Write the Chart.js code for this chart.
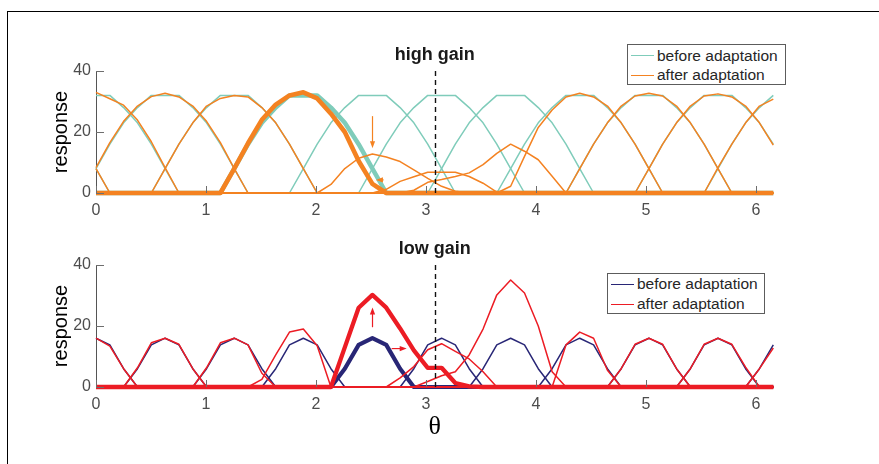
<!DOCTYPE html>
<html>
<head>
<meta charset="utf-8">
<script src="https://cdn.jsdelivr.net/npm/chart.js@4.4.0/dist/chart.umd.min.js"></script>
<style>
    html, body { margin: 0; padding: 0; background: #fff; overflow: hidden; }
    body { position: relative; width: 879px; height: 464px; font-family: "Liberation Sans", Arial, sans-serif; }
    canvas { position: absolute; left: 0; }
    #frame { position: absolute; left: 7px; top: 11px; width: 900px; height: 500px; border-top: 1.5px solid #000; border-left: 1px solid #000; }
    .legend { position: absolute; background: #fff; border: 1px solid #5c5c5c; box-sizing: border-box; }
    .legend .swatch { position: absolute; height: 0; border-top: 1.6px solid; }
    .legend .label { position: absolute; font-size: 15.5px; line-height: 18px; color: #262626; white-space: nowrap; }
</style>
</head>
<body>
<div id="frame"></div>
<canvas id="high-gain-chart" width="879" height="232" style="top:0"></canvas>
<canvas id="low-gain-chart" width="879" height="232" style="top:232px"></canvas>
<div id="high-legend" class="legend"></div>
<div id="low-legend" class="legend"></div>
<script>
// Muestreo de theta (50 puntos)
var theta = [0, 0.126, 0.251, 0.377, 0.503, 0.628, 0.754, 0.880, 1.005, 1.131,
             1.257, 1.382, 1.508, 1.634, 1.759, 1.885, 2.011, 2.136, 2.262, 2.388,
             2.513, 2.639, 2.765, 2.890, 3.016, 3.142, 3.267, 3.393, 3.519, 3.644,
             3.770, 3.896, 4.021, 4.147, 4.273, 4.398, 4.524, 4.650, 4.775, 4.901,
             5.027, 5.152, 5.278, 5.404, 5.529, 5.655, 5.781, 5.906, 6.032, 6.158];
var xTicks = [0, 1, 2, 3, 4, 5, 6];
var yTicks = [0, 20, 40];
var adaptorTheta = 3.08;
var seriesLabels = ['before adaptation', 'after adaptation'];

// Curvas: [indice inicial, valores] (fuera de ese tramo la respuesta es 0)
var highBefore = [
    [44, [0, 8, 16, 23, 28, 32, 32, 32, 28, 23, 16, 8, 0]],
    [49, [0, 8, 16, 23, 28, 32, 32, 32, 28, 23, 16, 8, 0]],
    [4,  [0, 8, 16, 23, 28, 32, 32, 32, 28, 23, 16, 8, 0]],
    [9,  [0, 8, 16, 23, 28, 32, 32, 32, 28, 23, 16, 8, 0]],
    [14, [0, 8, 16, 23, 28, 32, 32, 32, 28, 23, 16, 8, 0]],
    [19, [0, 8, 16, 23, 28, 32, 32, 32, 28, 23, 16, 8, 0]],
    [24, [0, 8, 16, 23, 28, 32, 32, 32, 28, 23, 16, 8, 0]],
    [29, [0, 8, 16, 23, 28, 32, 32, 32, 28, 23, 16, 8, 0]],
    [34, [0, 8, 16, 23, 28, 32, 32, 32, 28, 23, 16, 8, 0]],
    [39, [0, 8, 16, 23, 28, 32, 32, 32, 28, 23, 16, 8, 0]]
];
var highAfter = [
    [44, [0, 8.3, 16, 23, 28.5, 30.8, 33, 30.9, 28.8, 23.9, 16.8, 8.3, 0]],
    [49, [0, 8.3, 16.5, 23.5, 28.5, 31.6, 32.7, 31.5, 28.5, 23.5, 16.5, 8, 0]],
    [4,  [0, 8, 16, 23, 28.5, 31, 32, 31.5, 28, 23, 16, 8, 0]],
    [9,  [0, 8, 16.3, 24, 29, 32, 33, 31, 26, 20, 10.5, 3, 0]],
    [16, [0, 2.8, 8, 11.4, 12.8, 11.8, 10.3, 7.6, 4.8, 2.2, 0.6, 0]],
    [20, [0, 1.2, 3.8, 5.3, 6.8, 6.8, 6.8, 5.4, 3.2, 0.3, 0]],
    [22, [0, 0.9, 3.5, 4.4, 5.4, 6.6, 9.3, 13, 16, 13.7, 10.9, 5.5, 0]],
    [29, [0, 2.2, 12, 21.5, 27.2, 31.5, 32.7, 31.5, 28.5, 23, 16, 8, 0]],
    [34, [0, 8, 16, 23, 28.5, 31.8, 32.7, 31.8, 28.5, 23, 16, 8, 0]],
    [39, [0, 8, 16, 23, 28.5, 31.8, 32.5, 31.5, 28.5, 23, 15.7, 8, 0]]
];
var lowBefore = [
    [47, [0, 6, 13.8, 16, 13.8, 6, 0]],
    [2,  [0, 6, 13.8, 16, 13.8, 6, 0]],
    [7,  [0, 6, 13.8, 16, 13.8, 6, 0]],
    [12, [0, 6, 13.8, 16, 13.8, 6, 0]],
    [17, [0, 6, 13.8, 16, 13.8, 6, 0]],
    [22, [0, 6, 13.8, 16, 13.8, 6, 0]],
    [27, [0, 6, 13.8, 16, 13.8, 6, 0]],
    [32, [0, 6, 13.8, 16, 13.8, 6, 0]],
    [37, [0, 6, 13.8, 16, 13.8, 6, 0]],
    [42, [0, 6, 13.8, 16, 13.8, 6, 0]]
];
var lowAfter = [
    [47, [0, 6, 12.8, 16, 13.4, 6, 0]],
    [2,  [0, 6.3, 14.5, 16, 14, 6, 0]],
    [7,  [0, 6.3, 14.5, 16, 13.8, 4.5, 0]],
    [11, [0, 2.5, 10.5, 18, 19, 13.5, 0]],
    [17, [0, 13, 26, 30.2, 26, 19.2, 12, 6.3, 6.3, 1.3, 0.2, 0]],
    [21, [0, 3, 6.7, 12.2, 14.2, 11.7, 9.2, 5, 0]],
    [23, [0, 1.8, 3.7, 5, 10.5, 19, 30.2, 35.1, 30.8, 20, 5, 0]],
    [33, [0, 13.8, 18, 16, 5.5, 0]],
    [37, [0, 6, 14, 16, 14, 6, 0]],
    [42, [0, 6, 14, 16, 14, 6.5, 0]]
];
var highFocus = 3;   // curva resaltada (gruesa) en ganancia alta
var lowFocus = 4;    // curva resaltada (gruesa) en ganancia baja

// Flechas [x0, y0, x1, y1] en unidades de los datos
var highArrows = [[2.514, 25.2, 2.514, 14.7], [2.615, 4.3, 2.545, 4.3]];
var lowArrows = [[2.514, 19.6, 2.514, 26.1], [2.688, 12.6, 2.825, 12.6]];

var tealColor = 'rgb(127, 204, 186)';
var orangeColor = 'rgb(244, 130, 33)';
var navyColor = 'rgb(40, 38, 118)';
var redColor = 'rgb(236, 28, 36)';
var axisGrey = '#555555';
var fontFamily = '"Liberation Sans", Arial, sans-serif';

function expand(curve) {
    var y = theta.map(function () { return 0; });
    curve[1].forEach(function (v, i) { y[(curve[0] + i) % theta.length] = v; });
    return theta.map(function (t, k) { return {x: t, y: y[k]}; });
}

function lineSet(curve, color, width) {
    return {
        data: expand(curve),
        borderColor: color,
        borderWidth: width,
        pointRadius: 0,
        tension: 0,
        fill: false,
        clip: false,
        borderJoinStyle: 'round'
    };
}

function buildDatasets(before, after, focus, colBefore, colAfter, thickBefore, thickAfter) {
    var sets = [];
    before.forEach(function (c, i) { if (i !== focus) sets.push(lineSet(c, colBefore, 1.5)); });
    sets.push(lineSet(before[focus], colBefore, thickBefore));
    after.forEach(function (c, i) { if (i !== focus) sets.push(lineSet(c, colAfter, 1.5)); });
    sets.push(lineSet(after[focus], colAfter, thickAfter));
    sets.forEach(function (s, i) { s.order = sets.length - i; });
    return sets;
}

function drawArrow(ctx, x0, y0, x1, y1, color) {
    var ang = Math.atan2(y1 - y0, x1 - x0);
    var len = 7, half = 2.6;
    ctx.strokeStyle = color;
    ctx.fillStyle = color;
    ctx.lineWidth = 1.2;
    ctx.beginPath();
    ctx.moveTo(x0, y0);
    ctx.lineTo(x1 - Math.cos(ang) * len * 0.8, y1 - Math.sin(ang) * len * 0.8);
    ctx.stroke();
    ctx.beginPath();
    ctx.moveTo(x1, y1);
    ctx.lineTo(x1 - Math.cos(ang) * len - Math.sin(ang) * half, y1 - Math.sin(ang) * len + Math.cos(ang) * half);
    ctx.lineTo(x1 - Math.cos(ang) * len + Math.sin(ang) * half, y1 - Math.sin(ang) * len - Math.cos(ang) * half);
    ctx.closePath();
    ctx.fill();
}

// Marcas hacia dentro, linea del adaptador y flechas
var markerPlugin = {
    id: 'markers',
    afterDatasetsDraw: function (chart, args, opts) {
        var ctx = chart.ctx, xs = chart.scales.x, ys = chart.scales.y;
        ctx.save();
        ctx.strokeStyle = '#6e6e6e';
        ctx.lineWidth = 1;
        ctx.beginPath();
        xs.ticks.forEach(function (t) {
            var px = Math.round(xs.getPixelForValue(t.value)) + 0.5;
            ctx.moveTo(px, ys.bottom);
            ctx.lineTo(px, ys.bottom - 7);
        });
        ys.ticks.forEach(function (t) {
            var py = Math.round(ys.getPixelForValue(t.value)) + 0.5;
            ctx.moveTo(xs.left, py);
            ctx.lineTo(xs.left + 8, py);
        });
        ctx.stroke();

        var ax = Math.round(xs.getPixelForValue(opts.adaptor)) + 0.5;
        ctx.strokeStyle = '#111';
        ctx.lineWidth = 1.4;
        ctx.setLineDash([5, 4]);
        ctx.beginPath();
        ctx.moveTo(ax, ys.getPixelForValue(40));
        ctx.lineTo(ax, ys.getPixelForValue(0));
        ctx.stroke();
        ctx.setLineDash([]);

        opts.arrows.forEach(function (a) {
            drawArrow(ctx, xs.getPixelForValue(a[0]), ys.getPixelForValue(a[1]),
                      xs.getPixelForValue(a[2]), ys.getPixelForValue(a[3]), opts.arrowColor);
        });
        ctx.restore();
    }
};

function makeChart(id, cfg) {
    var ctx = document.getElementById(id).getContext('2d');
    return new Chart(ctx, {
        type: 'line',
        data: { datasets: cfg.datasets },
        options: {
            responsive: false,
            animation: false,
            devicePixelRatio: 1,
            events: [],
            layout: { padding: { left: 0, right: 105.7, top: 0, bottom: 0 } },
            plugins: {
                legend: { display: false },
                tooltip: { enabled: false },
                title: {
                    display: true,
                    text: cfg.title,
                    fullSize: false,
                    color: '#1a1a1a',
                    font: { family: fontFamily, size: 18, weight: 'bold', lineHeight: 1.2 },
                    padding: { top: cfg.titleTop, bottom: cfg.titleBottom }
                },
                markers: { adaptor: adaptorTheta, arrows: cfg.arrows, arrowColor: cfg.arrowColor }
            },
            scales: {
                x: {
                    type: 'linear',
                    min: theta[0],
                    max: theta[theta.length - 1],
                    grid: { display: false, drawTicks: false },
                    border: { display: true, color: axisGrey, width: 1 },
                    ticks: { color: '#4d4d4d', padding: 8, includeBounds: false, font: { family: fontFamily, size: 16 } },
                    afterBuildTicks: function (s) { s.ticks = xTicks.map(function (v) { return {value: v}; }); },
                    afterFit: function (s) { s.height = cfg.xHeight; },
                    title: {
                        display: cfg.showTheta,
                        text: 'θ',
                        color: '#000',
                        font: { family: '"Liberation Serif", "Times New Roman", serif', size: 26, lineHeight: 1.2 },
                        padding: { top: 0, bottom: 21.5 }
                    }
                },
                y: {
                    type: 'linear',
                    min: 0,
                    max: 40,
                    grid: { display: false, drawTicks: false },
                    border: { display: true, color: axisGrey, width: 1 },
                    ticks: { color: '#4d4d4d', padding: 5, font: { family: fontFamily, size: 16 } },
                    afterBuildTicks: function (s) { s.ticks = yTicks.map(function (v) { return {value: v}; }); },
                    afterFit: function (s) { s.width = 96; },
                    title: {
                        display: true,
                        text: 'response',
                        color: '#000',
                        font: { family: fontFamily, size: 20, lineHeight: 1.2 },
                        padding: { top: 49, bottom: 0 }
                    }
                }
            }
        },
        plugins: [markerPlugin]
    });
}

function buildLegend(id, box, colors) {
    var el = document.getElementById(id);
    el.style.left = box.left + 'px';
    el.style.top = box.top + 'px';
    el.style.width = box.width + 'px';
    el.style.height = box.height + 'px';
    seriesLabels.forEach(function (txt, i) {
        var cy = box.rows[i];
        var sw = document.createElement('div');
        sw.className = 'swatch';
        sw.style.left = '3px';
        sw.style.width = '23px';
        sw.style.top = (cy - 1) + 'px';
        sw.style.borderTopColor = colors[i];
        el.appendChild(sw);
        var lb = document.createElement('div');
        lb.className = 'label';
        lb.style.left = '29px';
        lb.style.top = (cy - 9.5) + 'px';
        lb.textContent = txt;
        el.appendChild(lb);
    });
}

document.addEventListener('DOMContentLoaded', function () {
    makeChart('high-gain-chart', {
        title: 'high gain',
        datasets: buildDatasets(highBefore, highAfter, highFocus, tealColor, orangeColor, 4.5, 4.6),
        titleTop: 44.2, titleBottom: 5.2,
        xHeight: 39,
        showTheta: false,
        arrows: highArrows,
        arrowColor: orangeColor
    });
    makeChart('low-gain-chart', {
        title: 'low gain',
        datasets: buildDatasets(lowBefore, lowAfter, lowFocus, navyColor, redColor, 4.2, 4.3),
        titleTop: 6.2, titleBottom: 5.2,
        xHeight: 77,
        showTheta: true,
        arrows: lowArrows,
        arrowColor: redColor
    });
    buildLegend('high-legend', { left: 627, top: 44, width: 159, height: 41, rows: [11.2, 30.5] }, [tealColor, orangeColor]);
    buildLegend('low-legend', { left: 607, top: 273, width: 158, height: 41, rows: [10.8, 30.5] }, [navyColor, redColor]);
});
</script>
</body>
</html>
